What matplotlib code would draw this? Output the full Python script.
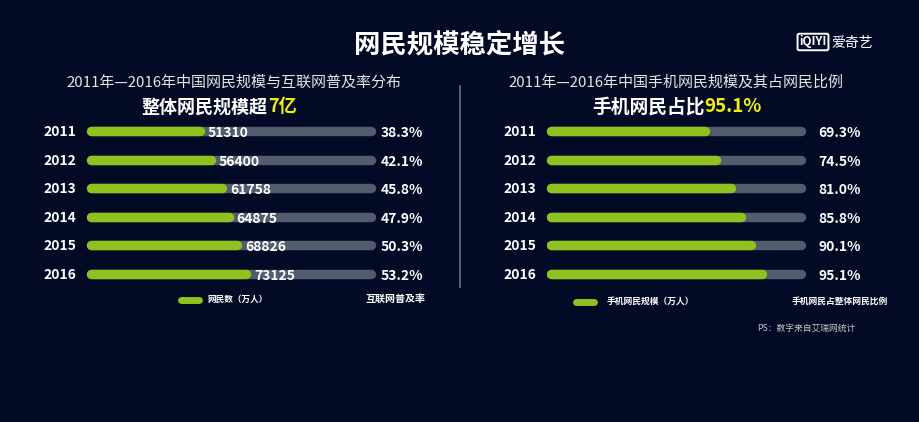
import matplotlib
matplotlib.use("Agg")
import matplotlib.pyplot as plt
from matplotlib.lines import Line2D

plt.rcParams['font.family'] = ['Noto Sans CJK SC', 'DejaVu Sans']

# --- 数据 ---
years = ['2011', '2012', '2013', '2014', '2015', '2016']
netizens = [51310, 56400, 61758, 64875, 68826, 73125]           # 网民数（万人）
penetration = ['38.3%', '42.1%', '45.8%', '47.9%', '50.3%', '53.2%']
mobile_share = [69.3, 74.5, 81.0, 85.8, 90.1, 95.1]              # 手机网民占比 %
left_full = 132000
right_full = 113

BG = '#020a25'
GREEN = '#8dc21f'
GREY = '#525c6e'
W, H = 920, 422


def fx(px):
    return px / W


def fy(py):
    return 1 - py / H


fig = plt.figure(figsize=(9.2, 4.22), dpi=100, facecolor=BG)


def bar_panel(x0, x1, full, values, labels, pct_offset, show_values):
    # 圆头线宽约 9px，左右各留半个线宽
    cap = 4.5
    ax = fig.add_axes([fx(x0 + cap), fy(288.3), fx(x1 - x0 - 2 * cap), (288.3 - 116.7) / H])
    ax.set_facecolor('none')
    ax.set_xlim(0, full)
    ax.set_ylim(len(years) - 0.5, -0.5)
    ax.axis('off')
    for i, v in enumerate(values):
        ax.plot([0, full], [i, i], color=GREY, lw=6.8, solid_capstyle='round', clip_on=False)
        ax.plot([0, v], [i, i], color=GREEN, lw=6.8, solid_capstyle='round', clip_on=False)
        ax.annotate(years[i], xy=(0, i), xytext=(-15, -1), textcoords='offset pixels',
                    ha='right', va='center', color='white', fontsize=10, fontweight='bold')
        if show_values:
            ax.annotate(str(v), xy=(v, i), xytext=(8, -2), textcoords='offset pixels',
                        ha='left', va='center', color='white', fontsize=10, fontweight='bold')
        ax.annotate(labels[i], xy=(full, i), xytext=(pct_offset, -2), textcoords='offset pixels',
                    ha='left', va='center', color='white', fontsize=10, fontweight='bold')
    return ax


bar_panel(87, 375, left_full, netizens, penetration, 10, True)
bar_panel(547, 806, right_full, mobile_share, [f'{v:.1f}%' for v in mobile_share], 17, False)

# --- 标题 ---
fig.text(fx(460), fy(45), '网民规模稳定增长', ha='center', va='center',
         color='white', fontsize=19, fontweight='bold')
fig.text(fx(234), fy(83), '2011年—2016年中国网民规模与互联网普及率分布', ha='center', va='center',
         color='#e6e6e6', fontsize=10.8)
fig.text(fx(676), fy(83), '2011年—2016年中国手机网民规模及其占网民比例', ha='center', va='center',
         color='#e6e6e6', fontsize=10.8)

renderer = fig.canvas.get_renderer()


def two_tone(cx, cy, a, b, size):
    t1 = fig.text(0, fy(cy), a, ha='left', va='center', color='white',
                  fontsize=size, fontweight='bold')
    t2 = fig.text(0, fy(cy), b, ha='left', va='center', color='#f2f200',
                  fontsize=size, fontweight='bold')
    w1 = t1.get_window_extent(renderer).width
    w2 = t2.get_window_extent(renderer).width
    start = cx - (w1 + w2) / 2
    t1.set_x(fx(start))
    t2.set_x(fx(start + w1))


two_tone(219, 107, '整体网民规模超', '7亿', 13)
two_tone(677, 107, '手机网民占比', '95.1%', 13.5)

# --- 分隔线 ---
fig.add_artist(Line2D([fx(460), fx(460)], [fy(86), fy(287)], color='#6b7385', lw=1.2))

# --- 图例 ---
fig.add_artist(Line2D([fx(181), fx(199)], [fy(300), fy(300)], color=GREEN, lw=5,
                      solid_capstyle='round'))
fig.text(fx(207), fy(299), '网民数（万人）', ha='left', va='center', color='white',
         fontsize=6.2, fontweight='bold')
fig.text(fx(396), fy(299), '互联网普及率', ha='center', va='center', color='white',
         fontsize=7.2, fontweight='bold')
fig.add_artist(Line2D([fx(576), fx(594)], [fy(302), fy(302)], color=GREEN, lw=5,
                      solid_capstyle='round'))
fig.text(fx(607), fy(301), '手机网民规模（万人）', ha='left', va='center', color='white',
         fontsize=6.3, fontweight='bold')
fig.text(fx(840), fy(301), '手机网民占整体网民比例', ha='center', va='center', color='white',
         fontsize=6.3, fontweight='bold')
fig.text(fx(757), fy(328), 'PS：数字来自艾瑞网统计', ha='left', va='center', color='#c8c8c8',
         fontsize=6.3)

# --- 爱奇艺 logo ---
fig.text(fx(813), fy(42), 'iQIYI', ha='center', va='center', color='white', fontsize=8.5,
         fontweight='bold', bbox=dict(boxstyle='round,pad=0.15', fc='none', ec='white', lw=1.4))
fig.text(fx(852), fy(43), '爱奇艺', ha='center', va='center', color='white', fontsize=10)

fig.savefig('out.png', dpi=100, facecolor=BG)
